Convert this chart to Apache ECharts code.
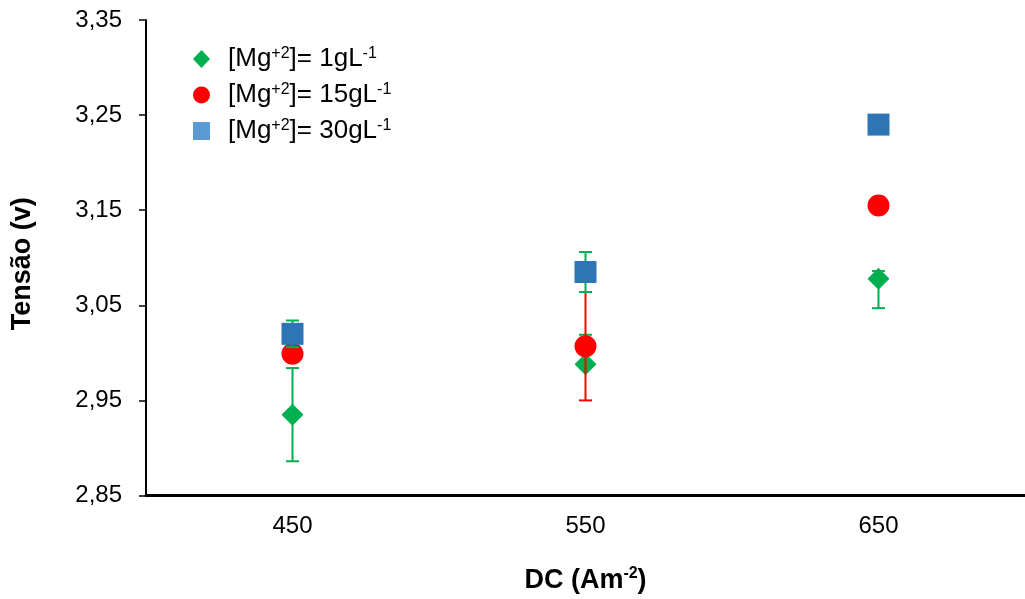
<!DOCTYPE html>
<html>
<head>
<meta charset="utf-8">
<script src="https://cdn.jsdelivr.net/npm/echarts@6/dist/echarts.min.js"></script>
<style>
  html, body { margin: 0; padding: 0; background: #fff; }
  #chart { width: 1025px; height: 599px; }
</style>
</head>
<body>
<div id="chart"></div>
<script>
// categorias (DC, Am-2)
var categories = ["450", "550", "650"];

// tensão média por série
var mg1 = [2.935, 2.988, 3.078];
var mg15 = [2.999, 3.007, 3.155];
var mg30 = [3.020, 3.085, 3.240];

// barras de erro (limite inferior / superior), null = sem barra
var mg1Low = [2.886, 2.988, 3.047];
var mg1High = [2.984, 3.019, 3.086];
var mg15Low = [null, 2.950, null];
var mg15High = [null, 3.064, null];
var mg30Low = [3.006, 3.064, null];
var mg30High = [3.034, 3.106, null];

var yTicks = { min: 2.85, max: 3.35, step: 0.1 };

var names = ["[Mg+2]= 1gL-1", "[Mg+2]= 15gL-1", "[Mg+2]= 30gL-1"];
var font = "'Liberation Sans', Arial, sans-serif";

function errData(low, high) {
  var out = [];
  for (var i = 0; i < low.length; i++) {
    if (low[i] != null) out.push([i, low[i], high[i]]);
  }
  return out;
}

function errRender(color) {
  return function (params, api) {
    var lo = api.coord([api.value(0), api.value(1)]);
    var hi = api.coord([api.value(0), api.value(2)]);
    var half = 6.5;
    var st = { stroke: color, lineWidth: 2 };
    return {
      type: "group",
      children: [
        { type: "line", shape: { x1: lo[0], y1: lo[1], x2: hi[0], y2: hi[1] }, style: st },
        { type: "line", shape: { x1: lo[0] - half, y1: lo[1], x2: lo[0] + half, y2: lo[1] }, style: st },
        { type: "line", shape: { x1: hi[0] - half, y1: hi[1], x2: hi[0] + half, y2: hi[1] }, style: st }
      ]
    };
  };
}

function legendLabel(name) {
  var m = name.match(/^\[Mg\+2\]= (\d+)gL-1$/);
  return "{g|}{n|[Mg}{s|+2}{n|]= " + m[1] + "gL}{s|-1}";
}

var chart = echarts.init(document.getElementById("chart"));

var option = {
  backgroundColor: "#fff",
  animation: false,
  textStyle: { fontFamily: font },
  grid: { left: 146, top: 20, width: 885, height: 477 },
  legend: {
    orient: "vertical",
    left: 193,
    top: 46,
    padding: 0,
    itemWidth: 17,
    itemHeight: 18,
    itemGap: 10,
    selectedMode: false,
    formatter: legendLabel,
    textStyle: {
      rich: {
        g: { width: 13 },
        n: { fontSize: 26, lineHeight: 26, color: "#000", fontFamily: font },
        s: { fontSize: 16, lineHeight: 16, verticalAlign: "top", color: "#000", fontFamily: font }
      }
    },
    data: [
      { name: names[0], icon: "diamond" },
      { name: names[1], icon: "circle" },
      { name: names[2], icon: "rect", itemStyle: { color: "#5B9BD5" } }
    ]
  },
  xAxis: {
    type: "category",
    data: categories,
    name: "{b|DC (Am}{s|-2}{b|)}",
    nameLocation: "middle",
    nameGap: 70,
    nameTextStyle: {
      rich: {
        b: { fontSize: 27, fontWeight: "bold", lineHeight: 30, color: "#000", fontFamily: font },
        s: { fontSize: 16, fontWeight: "bold", lineHeight: 16, verticalAlign: "top", color: "#000", fontFamily: font }
      }
    },
    axisLine: { lineStyle: { color: "#000", width: 3 } },
    axisTick: { show: false },
    axisLabel: { color: "#000", fontSize: 24, margin: 19 },
    splitLine: { show: false }
  },
  yAxis: {
    type: "value",
    min: yTicks.min,
    max: yTicks.max,
    interval: yTicks.step,
    name: "Tensão (v)",
    nameLocation: "middle",
    nameGap: 110,
    nameTextStyle: { fontSize: 27, fontWeight: "bold", color: "#000", padding: [0, 12, 0, 0] },
    axisLine: { show: true, lineStyle: { color: "#000", width: 2 } },
    axisTick: { show: true, length: 7, lineStyle: { color: "#000", width: 1.5 } },
    axisLabel: {
      color: "#000",
      fontSize: 24,
      margin: 24,
      formatter: function (v) { return v.toFixed(2).replace(".", ","); }
    },
    splitLine: { show: false }
  },
  series: [
    {
      name: "err1", type: "custom", z: 2, clip: false,
      renderItem: errRender("#00B050"),
      data: errData(mg1Low, mg1High)
    },
    {
      name: names[0], type: "scatter", z: 3,
      symbol: "diamond", symbolSize: 22,
      itemStyle: { color: "#00B050", opacity: 1 },
      data: mg1
    },
    {
      name: "err15", type: "custom", z: 4, clip: false,
      renderItem: errRender("#FF0000"),
      data: errData(mg15Low, mg15High)
    },
    {
      name: names[1], type: "scatter", z: 5,
      symbol: "circle", symbolSize: 22,
      itemStyle: { color: "#FF0000", opacity: 1 },
      data: mg15
    },
    {
      name: "err30", type: "custom", z: 6, clip: false,
      renderItem: errRender("#00B050"),
      data: errData(mg30Low, mg30High)
    },
    {
      name: names[2], type: "scatter", z: 7,
      symbol: "rect", symbolSize: 22,
      itemStyle: { color: "#2E75B6", opacity: 1 },
      data: mg30
    }
  ]
};

chart.setOption(option);
</script>
</body>
</html>
